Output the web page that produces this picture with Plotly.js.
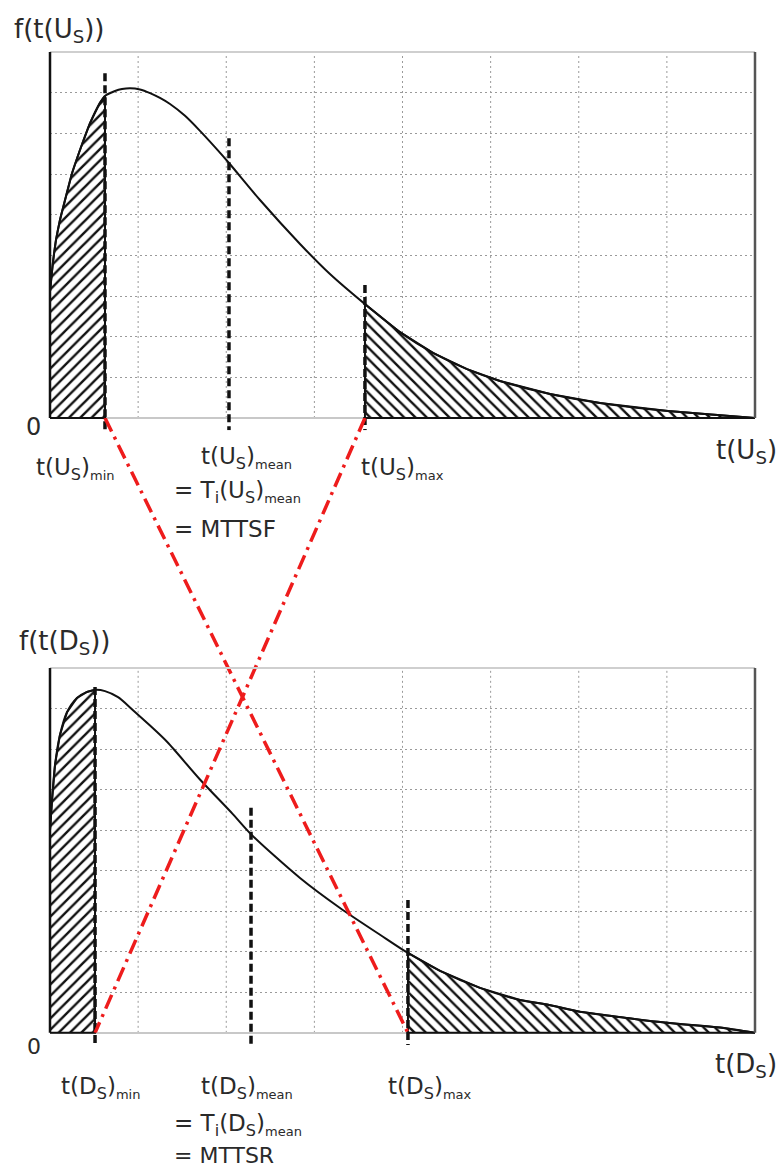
<!DOCTYPE html>
<html><head><meta charset="utf-8">
<script src="https://cdn.plot.ly/plotly-3.0.1.min.js"></script>
<style>html,body{margin:0;padding:0;background:#fff}</style>
</head><body><div id="chart" style="width:777px;height:1169px"></div>
<script>
// ---- data ----
const tU = [0, 0.034, 0.068, 0.113, 0.170, 0.250, 0.340, 0.454, 0.567, 0.624, 0.738, 0.817, 0.908, 1.021, 1.135, 1.248, 1.362, 1.532, 1.702, 1.872, 2.031, 2.383, 2.837, 3.177, 3.574, 3.972, 4.346, 4.732, 5.106, 5.674, 6.241, 7.013, 7.603, 8.000];
const fU = [3.10, 3.84, 4.38, 4.87, 5.36, 6.02, 6.59, 7.25, 7.75, 7.92, 8.04, 8.09, 8.11, 8.08, 7.99, 7.87, 7.72, 7.43, 7.06, 6.66, 6.27, 5.36, 4.28, 3.54, 2.80, 2.11, 1.60, 1.20, 0.91, 0.59, 0.37, 0.17, 0.07, 0];
const tD = [0, 0.023, 0.057, 0.113, 0.193, 0.306, 0.420, 0.511, 0.624, 0.772, 0.942, 1.135, 1.328, 1.702, 2.077, 2.281, 2.837, 3.291, 3.745, 4.062, 4.426, 4.879, 5.333, 5.640, 6.014, 6.389, 6.809, 7.149, 7.603, 8.000];
const fD = [5.00, 5.74, 6.61, 7.35, 7.91, 8.26, 8.41, 8.46, 8.43, 8.28, 7.96, 7.58, 7.18, 6.25, 5.39, 4.90, 3.82, 3.08, 2.42, 1.97, 1.53, 1.11, 0.81, 0.70, 0.52, 0.41, 0.29, 0.22, 0.13, 0];
// t min / mean / max markers and the top of their dashed lines
const tUStats = [0.624, 2.031, 3.574];
const tUDashTop = [8.48, 6.88, 3.27];
const tDStats = [0.511, 2.281, 4.062];
const tDDashTop = [8.53, 5.55, 3.28];
const gridX = [1, 2, 3, 4, 5, 6, 7];
const X_RANGE = [0, 8];
const Y_RANGE = [-0.3, 9];
const STUB = -0.3;

// ---- geometry helpers (layout only) ----
const W = 777, H = 1169, ML = 50, MR = 22, MT = 52, MB = 124;
const PW = W - ML - MR, PH = H - MT - MB;
const px2x = p => (p - ML) / PW;
const py2y = p => (H - MB - p) / PH;
const topDom = [py2y(430.2), 1];
const botDom = [0, py2y(668)];
const baseFrac = (dom) => dom[0] + (0 - Y_RANGE[0]) / (Y_RANGE[1] - Y_RANGE[0]) * (dom[1] - dom[0]);

const black = '#111';
const traces = [];

function panel(t, f, stats, dashTop, xa, ya) {
  const tmin = stats[0], tmax = stats[2];
  // left hatched region
  const lx = [0], ly = [0];
  t.forEach((v, i) => { if (v <= tmin) { lx.push(v); ly.push(f[i]); } });
  lx.push(tmin); ly.push(0); lx.push(0); ly.push(0);
  traces.push({x: lx, y: ly, xaxis: xa, yaxis: ya, mode: 'lines', fill: 'toself',
    fillcolor: 'white', line: {color: black, width: 2},
    fillpattern: {shape: '/', fgcolor: black, bgcolor: 'white', size: 8, solidity: 0.3},
    hoverinfo: 'skip', showlegend: false});
  // right hatched region
  const rx = [tmax], ry = [0];
  t.forEach((v, i) => { if (v >= tmax) { rx.push(v); ry.push(f[i]); } });
  rx.push(t[t.length - 1]); ry.push(0); rx.push(tmax); ry.push(0);
  traces.push({x: rx, y: ry, xaxis: xa, yaxis: ya, mode: 'lines', fill: 'toself',
    fillcolor: 'white', line: {color: black, width: 2},
    fillpattern: {shape: '\\', fgcolor: black, bgcolor: 'white', size: 8, solidity: 0.3},
    hoverinfo: 'skip', showlegend: false});
  // density curve
  traces.push({x: t, y: f, xaxis: xa, yaxis: ya, mode: 'lines',
    line: {color: black, width: 2, shape: 'spline', smoothing: 0.8},
    hoverinfo: 'skip', showlegend: false});
  // dashed markers
  stats.forEach((s, i) => {
    traces.push({x: [s, s], y: [dashTop[i], STUB], xaxis: xa, yaxis: ya, mode: 'lines',
      line: {color: black, width: 3.5, dash: '8px,4px'}, hoverinfo: 'skip', showlegend: false});
  });
}
panel(tU, fU, tUStats, tUDashTop, 'x', 'y');
panel(tD, fD, tDStats, tDDashTop, 'x2', 'y2');

// red dash-dot connectors: from top baseline (y3=1) to bottom baseline (y3=0)
const redStyle = {color: '#ee1c1c', width: 3.5, dash: '15px,6px,3px,6px'};
traces.push({x: [tUStats[0], tDStats[2]], y: [1, 0], xaxis: 'x3', yaxis: 'y3', mode: 'lines',
  line: redStyle, hoverinfo: 'skip', showlegend: false});
traces.push({x: [tUStats[2], tDStats[0]], y: [1, 0], xaxis: 'x3', yaxis: 'y3', mode: 'lines',
  line: redStyle, hoverinfo: 'skip', showlegend: false});

// grid + frame shapes
const shapes = [];
[['x', 'y'], ['x2', 'y2']].forEach(([xa, ya]) => {
  gridX.forEach(g => shapes.push({type: 'line', xref: xa, yref: ya, x0: g, x1: g, y0: 0, y1: Y_RANGE[1],
    line: {color: '#9a9a9a', width: 1, dash: '2px,3px'}, layer: 'below'}));
  const b = (0 - Y_RANGE[0]) / (Y_RANGE[1] - Y_RANGE[0]);
  shapes.push({type: 'line', xref: xa + ' domain', yref: ya + ' domain', x0: 0, x1: 1, y0: 1, y1: 1,
    line: {color: '#cfcfcf', width: 2}});
  shapes.push({type: 'line', xref: xa + ' domain', yref: ya + ' domain', x0: 1, x1: 1, y0: b, y1: 1,
    line: {color: '#555', width: 2.5}});
  shapes.push({type: 'line', xref: xa + ' domain', yref: ya + ' domain', x0: 0, x1: 0, y0: b, y1: 1,
    line: {color: black, width: 2.5}});
});

// text labels
const FONT = 'DejaVu Sans, Arial, sans-serif';
const TC = '#2a2a2a';
function A(text, px, py, size, xanchor) {
  return {text: text, xref: 'paper', yref: 'paper', x: px2x(px), y: py2y(py), xanchor: xanchor || 'left',
    yanchor: 'middle', showarrow: false, font: {family: FONT, size: size, color: TC}};
}
const U = 'U<sub>S</sub>', D = 'D<sub>S</sub>';
const sm = s => '<sub><span style="font-size:13px">' + s + '</span></sub>';
const annotations = [
  A('f(t(' + U + '))', 12, 30, 26),
  A('0', 33, 427, 24, 'center'),
  A('t(' + U + ')', 779, 451, 26, 'right'),
  A('t(' + U + ')' + sm('min'), 34, 469, 23),
  A('t(' + U + ')' + sm('mean'), 199, 458, 23),
  A('= T<sub>i</sub>(' + U + ')' + sm('mean'), 172, 492, 23),
  A('= MTTSF', 172, 529, 23),
  A('t(' + U + ')' + sm('max'), 359, 469, 23),
  A('f(t(' + D + '))', 17, 642, 26),
  A('0', 34, 1046, 22, 'center'),
  A('t(' + D + ')', 779, 1065, 26, 'right'),
  A('t(' + D + ')' + sm('min'), 59, 1088, 23),
  A('t(' + D + ')' + sm('mean'), 199, 1088, 23),
  A('= T<sub>i</sub>(' + D + ')' + sm('mean'), 172, 1125, 23),
  A('= MTTSR', 172, 1155, 22),
  A('t(' + D + ')' + sm('max'), 386, 1088, 23)
];

const yax = (dom, anchor) => ({domain: dom, range: Y_RANGE, anchor: anchor, showgrid: true, gridcolor: '#9a9a9a',
  griddash: '2px,3px', gridwidth: 1, tick0: 0, dtick: 1, zeroline: true, zerolinecolor: '#c8c8c8', zerolinewidth: 1.5,
  showticklabels: false, ticks: '', showline: false, fixedrange: true});
const xax = (anchor) => ({domain: [0, 1], range: X_RANGE, anchor: anchor, showgrid: false, zeroline: false,
  showticklabels: false, ticks: '', showline: false, fixedrange: true});

const layout = {
  width: W, height: H, margin: {l: ML, r: MR, t: MT, b: MB, pad: 0},
  paper_bgcolor: 'white', plot_bgcolor: 'rgba(0,0,0,0)', showlegend: false,
  xaxis: xax('y'), yaxis: yax(topDom, 'x'),
  xaxis2: xax('y2'), yaxis2: yax(botDom, 'x2'),
  xaxis3: Object.assign(xax('y3'), {visible: false}),
  yaxis3: {domain: [baseFrac(botDom), baseFrac(topDom)], range: [0, 1], anchor: 'x3', visible: false, fixedrange: true},
  shapes: shapes, annotations: annotations
};
Plotly.newPlot('chart', traces, layout, {displayModeBar: false, staticPlot: true});
</script></body></html>
